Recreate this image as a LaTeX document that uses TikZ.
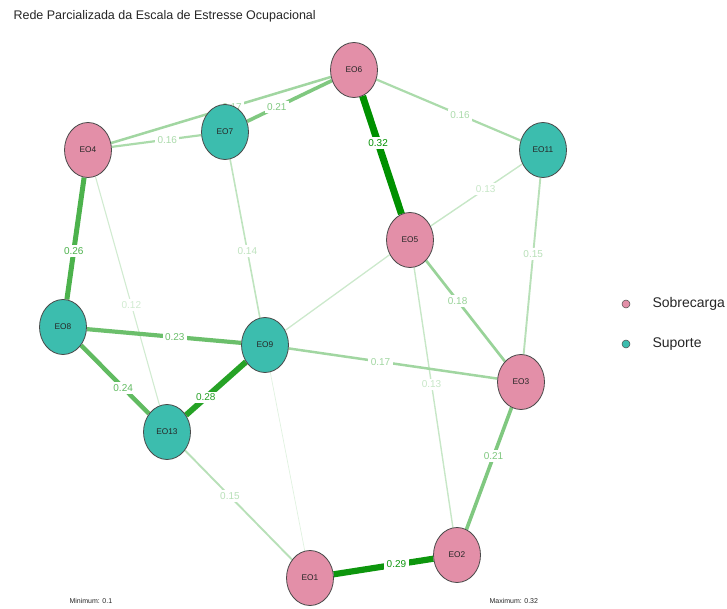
\documentclass[tikz,border=0pt]{standalone}
\usepackage{fontspec}
\setmainfont{Liberation Sans}
\usetikzlibrary{shapes.geometric,backgrounds}
\definecolor{pinkfill}{HTML}{E38FA8}
\definecolor{tealfill}{HTML}{3CBDAE}
\definecolor{nodeline}{HTML}{4A4A4A}
\definecolor{eg}{RGB}{0,145,0}
\begin{document}
\begin{tikzpicture}[x=1pt,y=-1pt,
  item/.style={ellipse, draw=nodeline, line width=0.8pt, minimum width=47pt,
    minimum height=55pt, inner sep=0pt, font=\fontsize{8.3}{9}\selectfont, text=black!85},
  sobre/.style={item, fill=pinkfill},
  supo/.style={item, fill=tealfill},
  ed/.style n args={2}{draw=eg!#2!white, line width=#1pt},
  lab/.style={fill=white, inner sep=2.4pt, text=eg!#1!white,
    font=\fontsize{10}{11}\selectfont},
  dot/.style={circle, draw=nodeline, line width=0.5pt, minimum size=8pt, inner sep=0pt},
  legtext/.style={anchor=west, font=\fontsize{14}{16}\selectfont, text=black!85},
  note/.style={anchor=west, font=\fontsize{7}{8}\selectfont, text=black!85},
]
\useasboundingbox (0,0) rectangle (727,609);

% title
\node[anchor=west, font=\fontsize{12.5}{14}\selectfont, text=black!85] (title) at (10,16)
  {Rede Parcializada da Escala de Estresse Ocupacional};

% items
\node[sobre] (EO6) at (354,70) {EO6};
\node[supo]  (EO7) at (225,132) {EO7};
\node[sobre] (EO4) at (88,150) {EO4};
\node[supo]  (EO11) at (543,150) {EO11};
\node[sobre] (EO5) at (410,240) {EO5};
\node[supo]  (EO8) at (63,327) {EO8};
\node[supo]  (EO9) at (265,345) {EO9};
\node[sobre] (EO3) at (521,382) {EO3};
\node[supo]  (EO13) at (167,432) {EO13};
\node[sobre] (EO2) at (457,555) {EO2};
\node[sobre] (EO1) at (310,578) {EO1};

% partial correlations, weakest first
\begin{scope}[on background layer]
\draw[ed={0.7}{12}] (EO9) -- (EO1);
\draw[ed={1.3}{20}] (EO5) -- (EO9);
\draw[ed={1.1}{18}] (EO4) -- node[lab=18, pos=0.56] {0.12} (EO13);
\draw[ed={1.4}{22}] (EO11) -- node[lab=22, pos=0.40] {0.13} (EO5);
\draw[ed={1.4}{22}] (EO5) -- node[lab=22, pos=0.45] {0.13} (EO2);
\draw[ed={1.6}{25}] (EO7) -- node[lab=25, pos=0.58] {0.14} (EO9);
\draw[ed={1.9}{28}] (EO11) -- node[lab=28, pos=0.43] {0.15} (EO3);
\draw[ed={1.9}{28}] (EO13) -- node[lab=28, pos=0.42] {0.15} (EO1);
\draw[ed={2.2}{33}] (EO4) -- node[lab=33, pos=0.62] {0.16} (EO7);
\draw[ed={2.2}{33}] (EO6) -- node[lab=33, pos=0.58] {0.16} (EO11);
\draw[ed={2.5}{37}] (EO4) -- node[lab=37, pos=0.55] {0.17} (EO6);
\draw[ed={2.5}{37}] (EO9) -- node[lab=37, pos=0.44] {0.17} (EO3);
\draw[ed={2.7}{40}] (EO5) -- node[lab=40, pos=0.40] {0.18} (EO3);
\draw[ed={3.6}{50}] (EO7) -- node[lab=50, pos=0.35] {0.21} (EO6);
\draw[ed={3.6}{50}] (EO3) -- node[lab=50, pos=0.40] {0.21} (EO2);
\draw[ed={4.2}{58}] (EO8) -- node[lab=58, pos=0.57] {0.23} (EO9);
\draw[ed={4.4}{62}] (EO8) -- node[lab=62, pos=0.62] {0.24} (EO13);
\draw[ed={5.0}{70}] (EO4) -- node[lab=70, pos=0.60] {0.26} (EO8);
\draw[ed={5.8}{85}] (EO9) -- node[lab=85, pos=0.67] {0.28} (EO13);
\draw[ed={6.2}{95}] (EO1) -- node[lab=95, pos=0.63] {0.29} (EO2);
\draw[ed={7.0}{100}] (EO6) -- node[lab=100, pos=0.40] {0.32} (EO5);
\end{scope}

% legend
\node[dot, fill=pinkfill] (dotS) at (626,304) {};
\node[legtext] (legS) at (649,304) {Sobrecarga};
\node[dot, fill=tealfill] (dotU) at (626,344) {};
\node[legtext] (legU) at (649,344) {Suporte};

% edge weight range
\node[note] (minnote) at (66,601) {Minimum: 0.1};
\node[note] (maxnote) at (486,601) {Maximum: 0.32};
\end{tikzpicture}
\end{document}
